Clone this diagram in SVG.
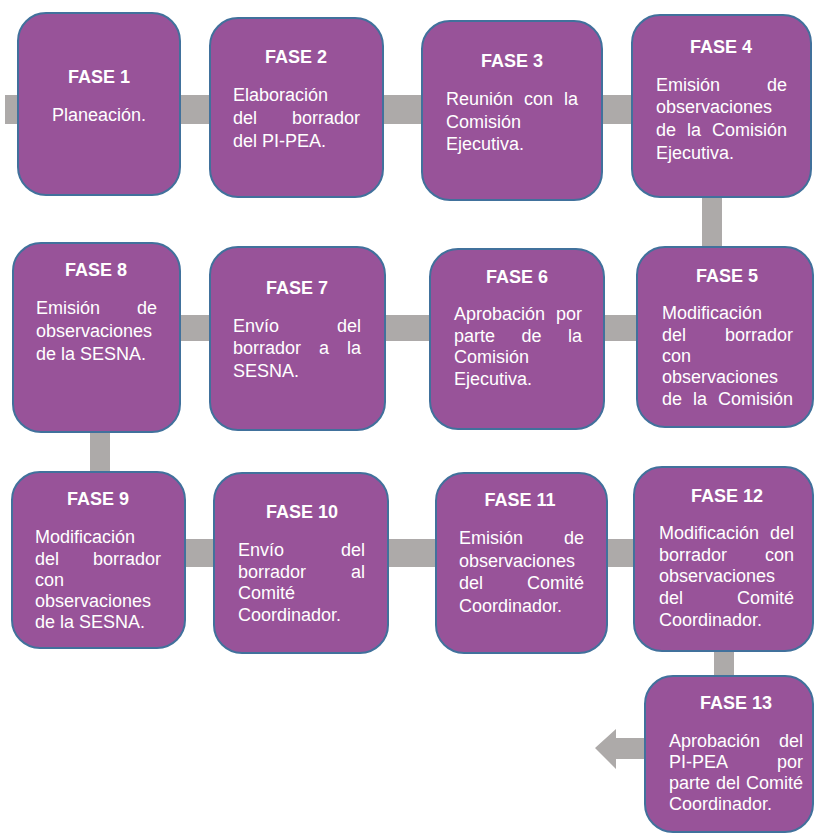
<svg xmlns="http://www.w3.org/2000/svg" width="815" height="834" viewBox="0 0 815 834">
<style>
.box{fill:#985399;stroke:#41719C;stroke-width:2}
.bar{fill:#ADAAA9}
text{font-family:"Liberation Sans",Arial,sans-serif;font-size:18px;fill:#FFFFFF}
.h{font-weight:bold;text-anchor:middle}
.c{text-anchor:middle}
.e{text-anchor:end}
</style>
<rect width="815" height="834" fill="#FFFFFF"/>
<g id="connectors">
<rect class="bar" x="5" y="95" width="710" height="29"/>
<rect class="bar" x="702" y="190" width="20" height="65"/>
<rect class="bar" x="170" y="315" width="475" height="26"/>
<rect class="bar" x="90" y="425" width="20" height="55"/>
<rect class="bar" x="175" y="539" width="470" height="28"/>
<rect class="bar" x="714" y="645" width="20" height="40"/>
<polygon class="bar" points="595,748 616,729 616,738 650,738 650,759 616,759 616,769"/>
</g>
<g id="fase1">
<rect class="box" x="18" y="13" width="162" height="182" rx="28"/>
<text class="h" x="99" y="83">FASE 1</text>
<text class="c" x="99" y="121">Planeación.</text>
</g>
<g id="fase2">
<rect class="box" x="210" y="18" width="173" height="179" rx="28"/>
<text class="h" x="296" y="63">FASE 2</text>
<text x="233" y="101">Elaboración</text>
<text x="233" y="124">del</text><text class="e" x="360" y="124">borrador</text>
<text x="233" y="147">del PI-PEA.</text>
</g>
<g id="fase3">
<rect class="box" x="422" y="21" width="180" height="179" rx="28"/>
<text class="h" x="512" y="67">FASE 3</text>
<text x="446" y="105">Reunión</text><text class="c" x="538.5" y="105">con</text><text class="e" x="578" y="105">la</text>
<text x="446" y="128">Comisión</text>
<text x="446" y="150">Ejecutiva.</text>
</g>
<g id="fase4">
<rect class="box" x="632" y="15" width="179" height="182" rx="28"/>
<text class="h" x="721" y="53">FASE 4</text>
<text x="656" y="91">Emisión</text><text class="e" x="787" y="91">de</text>
<text x="656" y="113">observaciones</text>
<text x="656" y="136">de</text><text class="c" x="694" y="136">la</text><text class="e" x="787" y="136">Comisión</text>
<text x="656" y="159">Ejecutiva.</text>
</g>
<g id="fase5">
<rect class="box" x="637" y="247" width="176" height="180" rx="28"/>
<text class="h" x="727" y="282">FASE 5</text>
<text x="662" y="319">Modificación</text>
<text x="662" y="341">del</text><text class="e" x="793" y="341">borrador</text>
<text x="662" y="362">con</text>
<text x="662" y="383">observaciones</text>
<text x="662" y="405">de</text><text class="c" x="700" y="405">la</text><text class="e" x="793" y="405">Comisión</text>
</g>
<g id="fase6">
<rect class="box" x="430" y="249" width="174" height="180" rx="28"/>
<text class="h" x="517" y="283">FASE 6</text>
<text x="454" y="320">Aprobación</text><text class="e" x="582" y="320">por</text>
<text x="454" y="342">parte</text><text class="c" x="531.5" y="342">de</text><text class="e" x="582" y="342">la</text>
<text x="454" y="363">Comisión</text>
<text x="454" y="385">Ejecutiva.</text>
</g>
<g id="fase7">
<rect class="box" x="210" y="247" width="175" height="183" rx="28"/>
<text class="h" x="297" y="294">FASE 7</text>
<text x="233" y="332">Envío</text><text class="e" x="361" y="332">del</text>
<text x="233" y="354">borrador</text><text class="c" x="324" y="354">a</text><text class="e" x="361" y="354">la</text>
<text x="233" y="377">SESNA.</text>
</g>
<g id="fase8">
<rect class="box" x="13" y="243" width="167" height="189" rx="28"/>
<text class="h" x="96" y="276">FASE 8</text>
<text x="36" y="314">Emisión</text><text class="e" x="157" y="314">de</text>
<text x="36" y="337">observaciones</text>
<text x="36" y="360">de la SESNA.</text>
</g>
<g id="fase9">
<rect class="box" x="12" y="472" width="173" height="176" rx="28"/>
<text class="h" x="98" y="505">FASE 9</text>
<text x="35" y="543">Modificación</text>
<text x="35" y="565">del</text><text class="e" x="161" y="565">borrador</text>
<text x="35" y="586">con</text>
<text x="35" y="607">observaciones</text>
<text x="35" y="628">de la SESNA.</text>
</g>
<g id="fase10">
<rect class="box" x="214" y="473" width="174" height="180" rx="28"/>
<text class="h" x="302" y="518">FASE 10</text>
<text x="238" y="556">Envío</text><text class="e" x="365" y="556">del</text>
<text x="238" y="578">borrador</text><text class="e" x="365" y="578">al</text>
<text x="238" y="599">Comité</text>
<text x="238" y="621">Coordinador.</text>
</g>
<g id="fase11">
<rect class="box" x="436" y="473" width="171" height="180" rx="28"/>
<text class="h" x="520" y="506">FASE 11</text>
<text x="459" y="544">Emisión</text><text class="e" x="584" y="544">de</text>
<text x="459" y="567">observaciones</text>
<text x="459" y="589">del</text><text class="e" x="584" y="589">Comité</text>
<text x="459" y="612">Coordinador.</text>
</g>
<g id="fase12">
<rect class="box" x="634" y="467" width="179" height="184" rx="28"/>
<text class="h" x="727" y="502">FASE 12</text>
<text x="659" y="539">Modificación</text><text class="e" x="794" y="539">del</text>
<text x="659" y="561">borrador</text><text class="e" x="794" y="561">con</text>
<text x="659" y="582">observaciones</text>
<text x="659" y="604">del</text><text class="e" x="794" y="604">Comité</text>
<text x="659" y="626">Coordinador.</text>
</g>
<g id="fase13">
<rect class="box" x="645" y="676" width="168" height="156" rx="28"/>
<text class="h" x="736" y="709">FASE 13</text>
<text x="669" y="747">Aprobación</text><text class="e" x="803" y="747">del</text>
<text x="669" y="768">PI-PEA</text><text class="e" x="803" y="768">por</text>
<text x="669" y="789">parte</text><text class="c" x="728" y="789">del</text><text class="e" x="803" y="789">Comité</text>
<text x="669" y="810">Coordinador.</text>
</g>
</svg>
